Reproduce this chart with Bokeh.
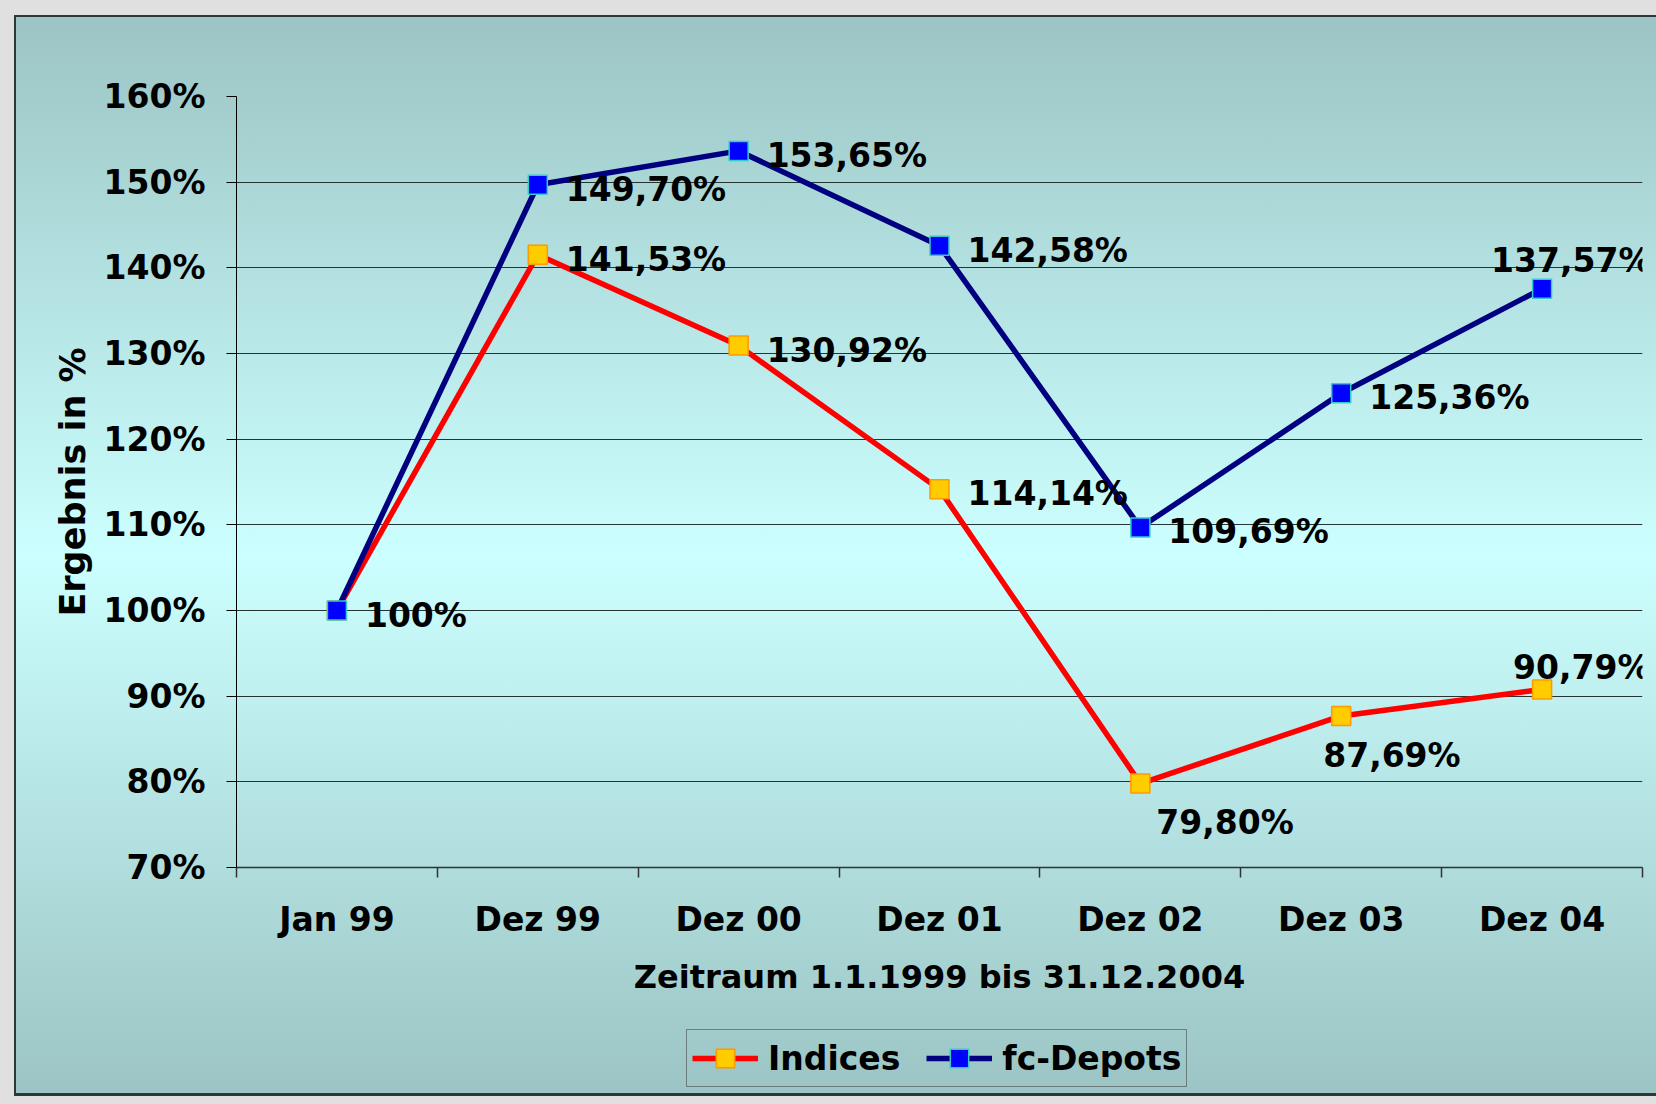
from bokeh.plotting import figure
from bokeh.layouts import column
from bokeh.models import (ColumnDataSource, FixedTicker, Legend, LegendItem,
                          LabelSet, Range1d, PrintfTickFormatter)
from bokeh.core.properties import value
from bokeh.embed import file_html
from bokeh.resources import INLINE

# ---- data ----
categories = ["Jan 99", "Dez 99", "Dez 00", "Dez 01", "Dez 02", "Dez 03", "Dez 04"]
indices = [100.0, 141.53, 130.92, 114.14, 79.80, 87.69, 90.79]
fc_depots = [100.0, 149.70, 153.65, 142.58, 109.69, 125.36, 137.57]
y_ticks = [70, 80, 90, 100, 110, 120, 130, 140, 150, 160]
series_names = ["Indices", "fc-Depots"]
x_title = "Zeitraum 1.1.1999 bis 31.12.2004"
y_title = "Ergebnis in %"

# ---- label placement (screen px offsets: dx right, dy up) ----
fc_label_off = [(28, -16), (28, -16), (28, -16), (28, -16), (28, -16), (28, -16), (-51, 17)]
ind_label_off = [None, (28, -16), (28, -16), (28, -16), (16, -50), (-18, -51), (-29, 10)]

FONT = "DejaVu Sans"
RED, NAVY = "#ff0000", "#000080"

def fmt(v):
    if float(v).is_integer():
        return "%d%%" % v
    return ("%.2f" % v).replace(".", ",") + "%"

xs = list(range(len(categories)))

# ---------------- main chart ----------------
p = figure(width=1656, height=1024, output_backend="svg", toolbar_location=None,
           x_range=Range1d(-0.5, len(categories) - 0.5), y_range=Range1d(70, 160),
           min_border_left=236, min_border_right=14, min_border_top=96, min_border_bottom=157)
p.background_fill_color = None
p.border_fill_color = None
p.outline_line_color = None

p.xgrid.visible = False
p.ygrid.grid_line_color = "#263434"
p.ygrid.grid_line_width = 1

yax = p.yaxis[0]
yax.ticker = FixedTicker(ticks=y_ticks)
yax.formatter = PrintfTickFormatter(format="%d%%")
yax.axis_line_color = "black"
yax.major_tick_line_color = "black"
yax.major_tick_out = 10
yax.major_tick_in = 0
yax.minor_tick_line_color = None
yax.major_label_standoff = 21
yax.major_label_text_font = FONT
yax.major_label_text_font_style = "bold"
yax.major_label_text_font_size = "33px"
yax.major_label_text_color = "black"
yax.axis_label = y_title
yax.axis_label_text_font = FONT
yax.axis_label_text_font_style = "bold"
yax.axis_label_text_font_size = "35px"
yax.axis_label_text_color = "black"
yax.axis_label_standoff = 8

xax = p.xaxis[0]
xax.ticker = FixedTicker(ticks=xs, minor_ticks=[i - 0.5 for i in range(len(categories) + 1)])
xax.major_label_overrides = {i: c for i, c in zip(xs, categories)}
xax.axis_line_color = "#333333"
xax.axis_line_width = 1.5
xax.major_tick_line_color = None
xax.major_tick_out = 0
xax.major_tick_in = 0
xax.minor_tick_line_color = "#333333"
xax.minor_tick_line_width = 1.5
xax.minor_tick_out = 10
xax.minor_tick_in = 0
xax.major_label_standoff = 22
xax.major_label_text_font = FONT
xax.major_label_text_font_style = "bold"
xax.major_label_text_font_size = "33px"
xax.major_label_text_color = "black"
xax.axis_label = x_title
xax.axis_label_text_font = FONT
xax.axis_label_text_font_style = "bold"
xax.axis_label_text_font_size = "32px"
xax.axis_label_text_color = "black"
xax.axis_label_standoff = 16

src_i = ColumnDataSource(dict(x=xs, y=indices))
src_f = ColumnDataSource(dict(x=xs, y=fc_depots))

line_i = dict(line_color=RED, line_width=5.5)
mark_i = dict(marker="square", size=19, fill_color="#ffcc00", line_color="#ff9900", line_width=1.5)
line_f = dict(line_color=NAVY, line_width=5.5)
mark_f = dict(marker="square", size=19, fill_color="#0000ff", line_color="#33cccc", line_width=1.5)

p.line("x", "y", source=src_i, **line_i)
p.scatter("x", "y", source=src_i, **mark_i)
p.line("x", "y", source=src_f, **line_f)
p.scatter("x", "y", source=src_f, **mark_f)

lx, ly, lt, ldx, ldy = [], [], [], [], []
for vals, offs in ((fc_depots, fc_label_off), (indices, ind_label_off)):
    for i, v in enumerate(vals):
        if offs[i] is None:
            continue
        lx.append(i); ly.append(v); lt.append(fmt(v))
        ldx.append(offs[i][0]); ldy.append(offs[i][1])
lab_src = ColumnDataSource(dict(x=lx, y=ly, text=lt, dx=ldx, dy=ldy))
p.add_layout(LabelSet(x="x", y="y", text="text", source=lab_src, x_offset="dx", y_offset="dy",
                      text_font=value(FONT), text_font_style="bold", text_font_size="33px",
                      text_color="black", text_align="left", text_baseline="alphabetic"))

# ---------------- legend strip (same series, outside its visible range) ----------------
lg = figure(width=1656, height=80, output_backend="svg", toolbar_location=None,
            x_axis_location=None, y_axis_location=None,
            x_range=Range1d(0, 1), y_range=Range1d(0, 1),
            min_border_left=236, min_border_right=14, min_border_top=0, min_border_bottom=0)
lg.background_fill_color = None
lg.border_fill_color = None
lg.outline_line_color = None
lg.grid.visible = False

k_li = lg.line("x", "y", source=src_i, **line_i)
k_mi = lg.scatter("x", "y", source=src_i, **mark_i)
k_lf = lg.line("x", "y", source=src_f, **line_f)
k_mf = lg.scatter("x", "y", source=src_f, **mark_f)

legend = Legend(items=[LegendItem(label=series_names[0], renderers=[k_li, k_mi]),
                       LegendItem(label=series_names[1], renderers=[k_lf, k_mf])],
                orientation="horizontal", location=(450, 17),
                glyph_width=66, glyph_height=46, label_height=46, label_standoff=10,
                spacing=26, padding=5, margin=0,
                label_text_font=FONT, label_text_font_style="bold", label_text_font_size="33px",
                label_text_color="black",
                background_fill_alpha=0, border_line_color="#333333", border_line_width=1)
lg.add_layout(legend, "center")

page = column(p, lg, spacing=0)
page.styles = {
    "background": "linear-gradient(to bottom, #9cc4c4 0%, #ccffff 50%, #9cc4c4 100%) 16px 17px / 1640px 1076px no-repeat, "
                  "linear-gradient(#2a3838, #2a3838) 14px 15px / 1642px 1081px no-repeat, #e0e0e0"
}

open("out.html", "w").write(file_html(page, INLINE))
